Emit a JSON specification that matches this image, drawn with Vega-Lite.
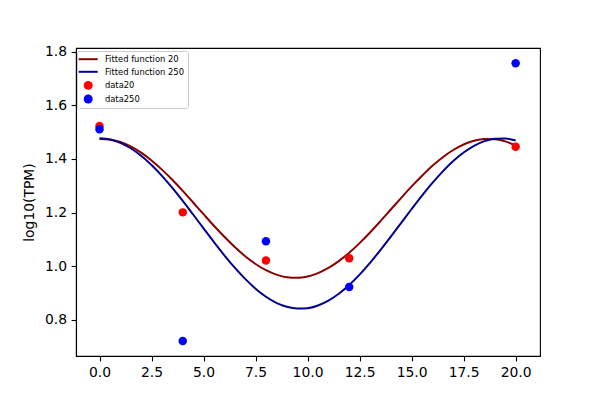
{
  "$schema": "https://vega.github.io/schema/vega-lite/v6.json",
  "width": 464,
  "height": 308,
  "autosize": "none",
  "padding": {"left": 76, "top": 48, "right": 60, "bottom": 44},
  "background": "white",
  "config": {
    "font": "DejaVu Sans",
    "view": {"stroke": "black", "strokeWidth": 1.1},
    "axis": {
      "grid": false,
      "domainColor": "black",
      "domainWidth": 1.1,
      "tickColor": "black",
      "tickWidth": 1.1,
      "tickSize": 4.9,
      "labelColor": "black",
      "labelFontSize": 13.9,
      "labelPadding": 4.5,
      "titleColor": "black",
      "titleFontSize": 13.9,
      "titleFontWeight": "normal"
    }
  },
  "data": {
    "values": [
      {"series": "Fitted function 20", "kind": "fit", "x": 0, "y": 1.4749},
      {"series": "Fitted function 20", "kind": "fit", "x": 0.5, "y": 1.4726},
      {"series": "Fitted function 20", "kind": "fit", "x": 1, "y": 1.4631},
      {"series": "Fitted function 20", "kind": "fit", "x": 1.5, "y": 1.4466},
      {"series": "Fitted function 20", "kind": "fit", "x": 2, "y": 1.4234},
      {"series": "Fitted function 20", "kind": "fit", "x": 2.5, "y": 1.3944},
      {"series": "Fitted function 20", "kind": "fit", "x": 3, "y": 1.3603},
      {"series": "Fitted function 20", "kind": "fit", "x": 3.5, "y": 1.3224},
      {"series": "Fitted function 20", "kind": "fit", "x": 4, "y": 1.2809},
      {"series": "Fitted function 20", "kind": "fit", "x": 4.5, "y": 1.2378},
      {"series": "Fitted function 20", "kind": "fit", "x": 5, "y": 1.1942},
      {"series": "Fitted function 20", "kind": "fit", "x": 5.5, "y": 1.1511},
      {"series": "Fitted function 20", "kind": "fit", "x": 6, "y": 1.1099},
      {"series": "Fitted function 20", "kind": "fit", "x": 6.5, "y": 1.0717},
      {"series": "Fitted function 20", "kind": "fit", "x": 7, "y": 1.0376},
      {"series": "Fitted function 20", "kind": "fit", "x": 7.5, "y": 1.0086},
      {"series": "Fitted function 20", "kind": "fit", "x": 8, "y": 0.9854},
      {"series": "Fitted function 20", "kind": "fit", "x": 8.5, "y": 0.9689},
      {"series": "Fitted function 20", "kind": "fit", "x": 9, "y": 0.9594},
      {"series": "Fitted function 20", "kind": "fit", "x": 9.5, "y": 0.9572},
      {"series": "Fitted function 20", "kind": "fit", "x": 10, "y": 0.9623},
      {"series": "Fitted function 20", "kind": "fit", "x": 10.5, "y": 0.9747},
      {"series": "Fitted function 20", "kind": "fit", "x": 11, "y": 0.9939},
      {"series": "Fitted function 20", "kind": "fit", "x": 11.5, "y": 1.0195},
      {"series": "Fitted function 20", "kind": "fit", "x": 12, "y": 1.0506},
      {"series": "Fitted function 20", "kind": "fit", "x": 12.5, "y": 1.0865},
      {"series": "Fitted function 20", "kind": "fit", "x": 13, "y": 1.1259},
      {"series": "Fitted function 20", "kind": "fit", "x": 13.5, "y": 1.1681},
      {"series": "Fitted function 20", "kind": "fit", "x": 14, "y": 1.2116},
      {"series": "Fitted function 20", "kind": "fit", "x": 14.5, "y": 1.2552},
      {"series": "Fitted function 20", "kind": "fit", "x": 15, "y": 1.2977},
      {"series": "Fitted function 20", "kind": "fit", "x": 15.5, "y": 1.3378},
      {"series": "Fitted function 20", "kind": "fit", "x": 16, "y": 1.3745},
      {"series": "Fitted function 20", "kind": "fit", "x": 16.5, "y": 1.4067},
      {"series": "Fitted function 20", "kind": "fit", "x": 17, "y": 1.4334},
      {"series": "Fitted function 20", "kind": "fit", "x": 17.5, "y": 1.4540},
      {"series": "Fitted function 20", "kind": "fit", "x": 18, "y": 1.4678},
      {"series": "Fitted function 20", "kind": "fit", "x": 18.5, "y": 1.4744},
      {"series": "Fitted function 20", "kind": "fit", "x": 19, "y": 1.4737},
      {"series": "Fitted function 20", "kind": "fit", "x": 19.5, "y": 1.4656},
      {"series": "Fitted function 20", "kind": "fit", "x": 20, "y": 1.4504},
      {"series": "Fitted function 250", "kind": "fit", "x": 0, "y": 1.4770},
      {"series": "Fitted function 250", "kind": "fit", "x": 0.5, "y": 1.4728},
      {"series": "Fitted function 250", "kind": "fit", "x": 1, "y": 1.4603},
      {"series": "Fitted function 250", "kind": "fit", "x": 1.5, "y": 1.4399},
      {"series": "Fitted function 250", "kind": "fit", "x": 2, "y": 1.4120},
      {"series": "Fitted function 250", "kind": "fit", "x": 2.5, "y": 1.3775},
      {"series": "Fitted function 250", "kind": "fit", "x": 3, "y": 1.3372},
      {"series": "Fitted function 250", "kind": "fit", "x": 3.5, "y": 1.2922},
      {"series": "Fitted function 250", "kind": "fit", "x": 4, "y": 1.2438},
      {"series": "Fitted function 250", "kind": "fit", "x": 4.5, "y": 1.1930},
      {"series": "Fitted function 250", "kind": "fit", "x": 5, "y": 1.1414},
      {"series": "Fitted function 250", "kind": "fit", "x": 5.5, "y": 1.0903},
      {"series": "Fitted function 250", "kind": "fit", "x": 6, "y": 1.0410},
      {"series": "Fitted function 250", "kind": "fit", "x": 6.5, "y": 0.9948},
      {"series": "Fitted function 250", "kind": "fit", "x": 7, "y": 0.9530},
      {"series": "Fitted function 250", "kind": "fit", "x": 7.5, "y": 0.9166},
      {"series": "Fitted function 250", "kind": "fit", "x": 8, "y": 0.8866},
      {"series": "Fitted function 250", "kind": "fit", "x": 8.5, "y": 0.8639},
      {"series": "Fitted function 250", "kind": "fit", "x": 9, "y": 0.8491},
      {"series": "Fitted function 250", "kind": "fit", "x": 9.5, "y": 0.8424},
      {"series": "Fitted function 250", "kind": "fit", "x": 10, "y": 0.8441},
      {"series": "Fitted function 250", "kind": "fit", "x": 10.5, "y": 0.8541},
      {"series": "Fitted function 250", "kind": "fit", "x": 11, "y": 0.8722},
      {"series": "Fitted function 250", "kind": "fit", "x": 11.5, "y": 0.8979},
      {"series": "Fitted function 250", "kind": "fit", "x": 12, "y": 0.9305},
      {"series": "Fitted function 250", "kind": "fit", "x": 12.5, "y": 0.9691},
      {"series": "Fitted function 250", "kind": "fit", "x": 13, "y": 1.0129},
      {"series": "Fitted function 250", "kind": "fit", "x": 13.5, "y": 1.0606},
      {"series": "Fitted function 250", "kind": "fit", "x": 14, "y": 1.1106},
      {"series": "Fitted function 250", "kind": "fit", "x": 14.5, "y": 1.1621},
      {"series": "Fitted function 250", "kind": "fit", "x": 15, "y": 1.2135},
      {"series": "Fitted function 250", "kind": "fit", "x": 15.5, "y": 1.2635},
      {"series": "Fitted function 250", "kind": "fit", "x": 16, "y": 1.3107},
      {"series": "Fitted function 250", "kind": "fit", "x": 16.5, "y": 1.3539},
      {"series": "Fitted function 250", "kind": "fit", "x": 17, "y": 1.3921},
      {"series": "Fitted function 250", "kind": "fit", "x": 17.5, "y": 1.4240},
      {"series": "Fitted function 250", "kind": "fit", "x": 18, "y": 1.4489},
      {"series": "Fitted function 250", "kind": "fit", "x": 18.5, "y": 1.4664},
      {"series": "Fitted function 250", "kind": "fit", "x": 19, "y": 1.4755},
      {"series": "Fitted function 250", "kind": "fit", "x": 19.5, "y": 1.4763},
      {"series": "Fitted function 250", "kind": "fit", "x": 20, "y": 1.4688},
      {"series": "data20", "kind": "data", "x": 0, "y": 1.523},
      {"series": "data20", "kind": "data", "x": 4, "y": 1.201},
      {"series": "data20", "kind": "data", "x": 8, "y": 1.022},
      {"series": "data20", "kind": "data", "x": 12, "y": 1.030},
      {"series": "data20", "kind": "data", "x": 20, "y": 1.446},
      {"series": "data250", "kind": "data", "x": 0, "y": 1.511},
      {"series": "data250", "kind": "data", "x": 4, "y": 0.722},
      {"series": "data250", "kind": "data", "x": 8, "y": 1.093},
      {"series": "data250", "kind": "data", "x": 12, "y": 0.923},
      {"series": "data250", "kind": "data", "x": 20, "y": 1.757}
    ]
  },
  "encoding": {
    "x": {
      "field": "x",
      "type": "quantitative",
      "title": null,
      "scale": {"domain": [-1.13, 21.17], "nice": false, "zero": false},
      "axis": {"values": [0, 2.5, 5, 7.5, 10, 12.5, 15, 17.5, 20], "format": ".1f"}
    },
    "y": {
      "field": "y",
      "type": "quantitative",
      "title": "log10(TPM)",
      "scale": {"domain": [0.6657, 1.8136], "nice": false, "zero": false},
      "axis": {"values": [0.8, 1.0, 1.2, 1.4, 1.6, 1.8], "format": ".1f", "titlePadding": 8}
    },
    "color": {
      "field": "series",
      "type": "nominal",
      "scale": {
        "domain": ["Fitted function 20", "Fitted function 250", "data20", "data250"],
        "range": ["#8B0000", "#00008B", "#FF0000", "#0000FF"]
      },
      "legend": {
        "title": null,
        "orient": "none",
        "legendX": 1,
        "legendY": 3,
        "labelFont": "DejaVu Sans",
        "labelFontSize": 8.4,
        "labelColor": "black",
        "labelOffset": 12.5,
        "symbolOffset": 3,
        "rowPadding": 3.6,
        "padding": 4,
        "strokeColor": "#cccccc",
        "fillColor": "rgba(255,255,255,0.8)",
        "cornerRadius": 2,
        "symbolSize": 361,
        "encode": {
          "symbols": {
            "update": {
              "shape": {"signal": "indexof(['data20','data250'], datum.value) >= 0 ? 'circle' : 'stroke'"},
              "size": {"signal": "indexof(['data20','data250'], datum.value) >= 0 ? 80 : 361"},
              "fill": {"signal": "indexof(['data20','data250'], datum.value) >= 0 ? scale('color', datum.value) : 'transparent'"},
              "stroke": {"signal": "scale('color', datum.value)"},
              "strokeWidth": {"signal": "indexof(['data20','data250'], datum.value) >= 0 ? 0 : 2"},
              "opacity": {"value": 1}
            }
          }
        }
      }
    }
  },
  "layer": [
    {
      "transform": [{"filter": "datum.kind == 'fit'"}],
      "mark": {"type": "line", "strokeWidth": 2, "interpolate": "monotone"}
    },
    {
      "transform": [{"filter": "datum.series == 'data20'"}],
      "mark": {"type": "circle", "size": 72, "opacity": 1}
    },
    {
      "transform": [{"filter": "datum.series == 'data250'"}],
      "mark": {"type": "circle", "size": 72, "opacity": 1}
    }
  ]
}
